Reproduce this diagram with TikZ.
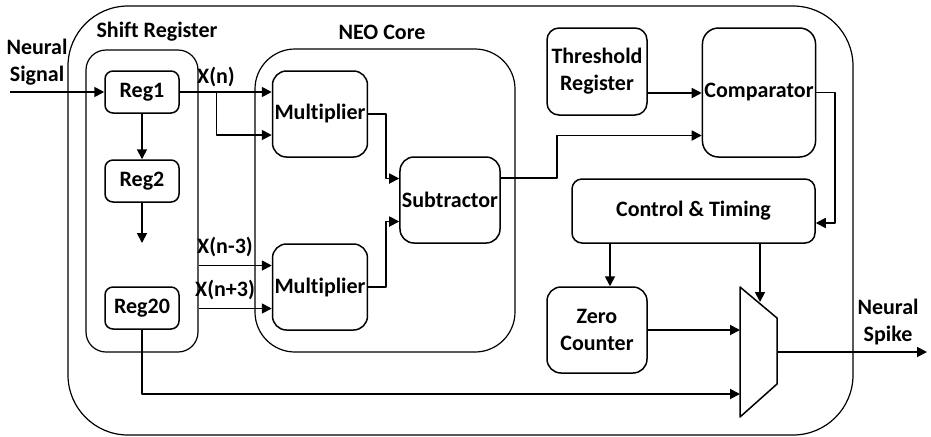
\documentclass[tikz,border=0pt]{standalone}
\usepackage{fontspec}
\setmainfont{Carlito}[Ligatures={NoCommon}]
\usetikzlibrary{arrows.meta, calc}

\begin{document}
\begin{tikzpicture}
		[x=0.5pt,y=-0.5pt,line join=round,
		font=\bfseries\fontsize{11}{13.5}\selectfont,
		%Styles
		group/.style={draw,line width=0.6pt,rounded corners=#1,inner sep=0pt},
		block/.style={draw,line width=0.75pt,rounded corners=#1,align=center,inner sep=1pt},
		reg/.style={block=4pt,minimum width=37pt,minimum height=21pt},
		unit/.style={block=7pt,minimum width=47pt,minimum height=43pt},
		caption/.style={align=center,inner sep=0pt},
		wire/.style={line width=0.9pt},
		signal/.style={line width=0.9pt,-{Triangle[length=5pt,width=5pt]}}
		]
		
		\useasboundingbox (0,0) rectangle (931,436);
		
		%Groups
		\node[group=30pt,minimum width=392.5pt,minimum height=214.5pt] (chip) at (460.5,220.5) {};
		\node[group=10pt,minimum width=56pt,minimum height=151pt] (shift) at (142,201) {};
		\node[group=20pt,minimum width=130pt,minimum height=151.5pt] (neo) at (385,200.5) {};
		\node[caption] (shift label) at (157,32) {Shift Register};
		\node[caption] (neo label) at (382,32) {NEO Core};
		
		%Blocks
		\node[reg] (reg1) at (142,92) {Reg1};
		\node[reg] (reg2) at (142,181) {Reg2};
		\node[reg] (reg20) at (142,308) {Reg20};
		\node[unit] (mul1) at (320,114) {Multiplier};
		\node[unit] (mul2) at (320,287) {Multiplier};
		\node[unit] (sub) at (450,200) {Subtractor};
		\node[block=6pt,minimum width=50pt,minimum height=43.5pt] (thr) at (597,71.5) {Threshold\\Register};
		\node[block=8pt,minimum width=56pt,minimum height=64.5pt] (comp) at (759,92.5) {Comparator};
		\node[block=5pt,minimum width=121.5pt,minimum height=32pt] (ctl) at (693.5,211) {Control \& Timing};
		\node[block=7pt,minimum width=50pt,minimum height=43pt] (zero) at (597,330) {Zero\\Counter};
		
		%Multiplexer
		\coordinate (mux a) at (740,287);
		\coordinate (mux b) at (777,318);
		\coordinate (mux c) at (777,384);
		\coordinate (mux d) at (740,417);
		\draw[line width=0.75pt] (mux a) -- (mux b) -- (mux c) -- (mux d) -- cycle;
		\coordinate (mux in1) at (740,330);
		\coordinate (mux in2) at (740,394);
		\coordinate (mux sel) at (760,302);
		\coordinate (mux out) at (777,352);
		
		%Pins
		\coordinate (signal in) at (10,92);
		\coordinate (reg dots) at (142,243);
		\coordinate (xn tap) at ($(reg1.east)!0.4!(reg1.east -| mul1.west)$);
		\coordinate (mul1 in2) at ([yshift=-10.5pt]mul1.west);
		\coordinate (mul2 in1) at ([yshift=10.75pt]mul2.west);
		\coordinate (mul2 in2) at ([yshift=-10.75pt]mul2.west);
		\coordinate (sub in1) at ([yshift=10.75pt]sub.west);
		\coordinate (sub in2) at ([yshift=-10.75pt]sub.west);
		\coordinate (sub out) at ([yshift=11pt]sub.east);
		\coordinate (thr out) at ([yshift=-10.75pt]thr.east);
		\coordinate (comp in2) at ([yshift=-21.5pt]comp.west);
		\coordinate (ctl in) at ([yshift=-6pt]ctl.east);
		\coordinate (zero in) at ([xshift=6.5pt]zero.north);
		\coordinate (spike) at (927,352);
		
		%Connections
		\draw[signal] (signal in) -- (reg1);
		\draw[signal] (reg1) -- (reg2);
		\draw[signal] (reg2) -- (reg dots);
		\draw[signal] (reg1.east) -- (reg1.east -| mul1.west);
		\draw[signal] (xn tap) |- (mul1 in2);
		\draw[signal] (mul2 in1 -| shift.east) -- (mul2 in1);
		\draw[signal] (mul2 in2 -| shift.east) -- (mul2 in2);
		\draw[signal] (mul1.east) -- ++(18,0) |- (sub in1);
		\draw[signal] (mul2.east) -- ++(18,0) |- (sub in2);
		\draw[signal] (sub out) -- ++(56,0) |- (comp in2);
		\draw[signal] (thr out) -- (thr out -| comp.west);
		\draw[signal] (comp.east) -- ++(19,0) |- (ctl in);
		\draw[signal] (zero in |- ctl.south) -- (zero in);
		\draw[signal] (mux sel |- ctl.south) -- (mux sel);
		\draw[signal] (zero.east) -- (zero.east -| mux in1);
		\draw[signal] (reg20.south) |- (mux in2);
		\draw[signal] (mux out) -- (spike);
		
		%Labels
		\node[caption] (signal label) at (37,62) {Neural\\Signal};
		\node[caption] (spike label) at (888,322) {Neural\\Spike};
		\node[caption] (xn) at (216,77) {X(n)};
		\node[caption] (xn3m) at (225,247) {X(n-3)};
		\node[caption] (xn3p) at (225,290) {X(n+3)};
	\end{tikzpicture}
\end{document}
